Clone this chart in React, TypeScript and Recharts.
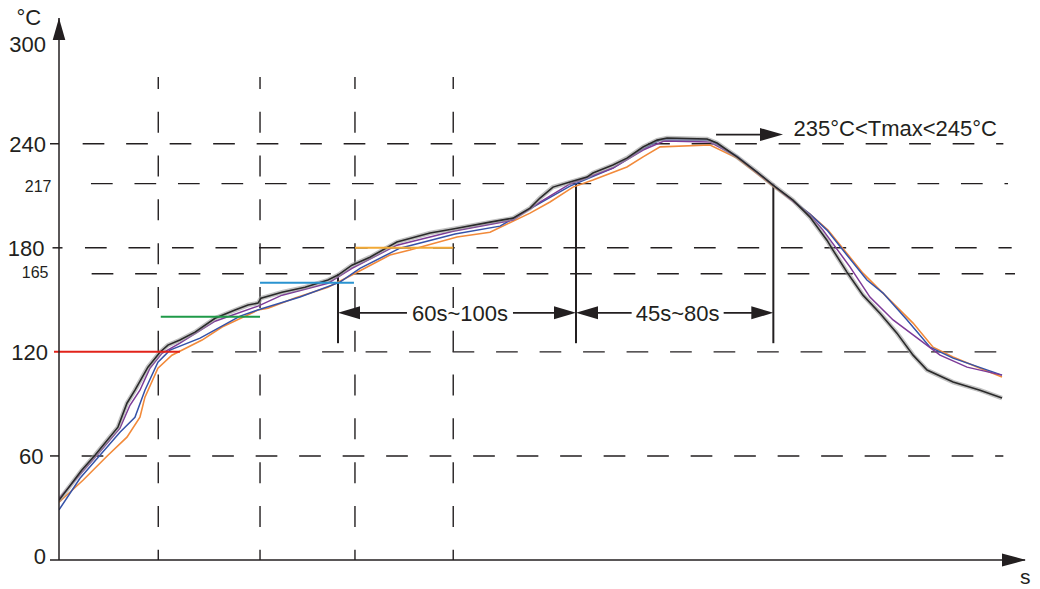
import React from 'react';
import { LineChart, Line, XAxis, YAxis, ReferenceLine, ReferenceDot } from 'recharts';

const INK = '#231f20';
const FONT = '"Liberation Sans", Arial, Helvetica, sans-serif';

// axis
const yTicks = [0, 60, 120, 165, 180, 217, 240, 300];
const minorTicks = [165, 217];
const tickMarked = [0, 60, 180, 240];
const yMax = 312.5;
const xMax = 580;

// dashed guide lines (temperature levels)
const dashLevels = [60, 120, 165, 180, 217, 240];
const dashStarts = [13.6, 79.6, 19.6, 15.6, 19.2, 14.2];
const dashEnds = [567, 567.4, 574, 572, 569.8, 567];

// dashed guide lines (time)
const guideTimes = [59.6, 120.7, 177.7, 236.7];
const guideTop = 278.5;

// coloured hold segments
const holdTemps = [120, 140.2, 159.8, 180];
const holdFrom = [-3, 61.1, 120.7, 177.7];
const holdTo = [72.6, 120.7, 177.1, 236.7];
const holdColors = ['#e2231a', '#1f9a48', '#2a93d0', '#f2a935'];

// solid marker lines
const markTimes = [167.5, 310.4, 428.9];
const markTops = [165, 217, 217];
const markBottom = 125;

// dimension arrows
const dimLabels = ['60s~100s', '45s~80s'];
const dimFrom = [167.5, 310.4];
const dimTo = [310.4, 428.9];
const dimLevel = 142.5;
const tmaxLabel = '235°C<Tmax<245°C';
const tmaxFrom = 394.5;
const tmaxTo = 434.7;
const tmaxLevel = 245.3;

// measured profiles [time, temperature]
const blackCurve: [number, number][] = [
  [0, 34.4], [13.6, 51.7], [21.6, 60.4], [35.4, 76.6], [40.8, 90.4], [45.6, 97.9],
  [53.4, 111.2], [60.6, 119.8], [65.4, 123.9], [72.6, 126.8], [81.7, 131.4], [93.7, 139.4],
  [105.7, 144.1], [113.5, 147.0], [119.5, 148.1], [121.3, 151.0], [133.9, 154.4], [147.7, 157.3],
  [161.5, 161.4], [167.5, 164.3], [175.9, 170.0], [186.7, 174.6], [202.9, 183.3], [222.8, 188.5],
  [236.6, 190.8], [258.8, 194.8], [272.6, 197.1], [282.8, 202.9], [288.8, 208.7], [296.6, 215.0],
  [306.8, 217.9], [317.0, 220.8], [320.6, 223.1], [332.6, 227.7], [341.0, 231.7], [350.7, 238.1],
  [359.1, 242.1], [365.1, 243.3], [389.1, 242.7], [395.1, 240.4], [407.1, 232.4], [419.1, 223.7],
  [428.7, 216.2], [440.7, 207.5], [450.9, 197.7], [461.1, 184.4], [464.7, 178.7], [473.1, 166.0],
  [482.7, 152.7], [492.9, 142.3], [503.1, 130.8], [512.8, 118.1], [521.2, 109.5], [536.8, 102.6],
  [553.0, 97.9], [566.2, 93.4],
];

const purpleCurve: [number, number][] = [
  [0, 35.5], [13.8, 50.6], [22.8, 60.4], [36.6, 76.0], [42.6, 89.2], [48.6, 97.9],
  [54.6, 110.6], [61.8, 119.2], [72.6, 125.0], [93.7, 137.7], [119.5, 146.4], [133.9, 152.7],
  [161.5, 159.6], [175.9, 168.2], [202.9, 181.5], [236.6, 189.6], [272.6, 196.0], [288.8, 206.4],
  [306.8, 216.8], [332.6, 226.0], [350.7, 236.4], [363.2, 241.6], [390.9, 241.0], [407.1, 232.4],
  [428.7, 216.2], [450.9, 198.8], [458.7, 190.2], [475.0, 168.9], [486.9, 151.6], [500.8, 138.4],
  [517.0, 126.8], [529.0, 118.1], [545.2, 111.2], [566.2, 106.6],
];

const blueCurve: [number, number][] = [
  [0, 28.9], [12.6, 47.1], [24.6, 60.4], [36.6, 73.7], [45.6, 82.3], [51.6, 97.9],
  [59.4, 114.0], [66.6, 121.0], [84.7, 127.9], [108.7, 140.6], [120.7, 144.6], [144.7, 151.6],
  [168.7, 160.2], [180.7, 168.2], [204.7, 179.8], [237.8, 187.9], [264.8, 192.5], [288.8, 205.8],
  [306.8, 215.6], [332.6, 226.0], [350.7, 236.9], [360.9, 242.1], [390.9, 242.1], [407.1, 232.9],
  [428.7, 216.2], [450.9, 199.4], [461.1, 190.2], [485.1, 161.4], [494.8, 153.9], [509.2, 138.4],
  [523.0, 122.7], [536.8, 116.4], [566.2, 106.6],
];

const orangeCurve: [number, number][] = [
  [0, 33.3], [14.4, 46.0], [29.4, 60.4], [40.8, 70.8], [48.6, 82.3], [51.6, 93.9],
  [59.4, 110.6], [67.8, 118.1], [85.9, 126.8], [97.9, 134.3], [119.5, 144.1], [125.5, 145.2],
  [141.7, 151.0], [161.5, 157.3], [175.9, 164.3], [198.7, 175.8], [210.7, 178.7], [239.0, 186.2],
  [258.8, 189.0], [282.8, 200.0], [294.8, 206.4], [308.6, 215.0], [320.6, 219.1], [341.0, 226.6],
  [350.7, 232.4], [360.9, 238.2], [390.9, 239.3], [407.1, 231.7], [428.7, 215.6], [450.9, 199.4],
  [461.7, 190.2], [482.7, 165.4], [498.9, 149.8], [512.8, 136.6], [524.8, 122.7], [536.8, 117.0],
  [553.0, 110.6], [566.2, 105.5],
];

const toRows = (c: [number, number][]) => c.map(([t, v]) => ({ t, v }));

const YTick = (props: any) => {
  const { y, payload } = props;
  const v = payload.value as number;
  const minor = minorTicks.includes(v);
  let x = 46;
  let dy = 8.5;
  if (v === 217) { x = 51.5; dy = 8; }
  if (v === 165) { x = 48.5; dy = 4.5; }
  if (v === 300) { dy = 12; }
  if (v === 0) { dy = 3.5; }
  if (v === 120) { x = 48; }
  if (v === 60) { x = 43.5; }
  if (v === 180) { x = 44.5; }
  return (
    <g>
      {tickMarked.includes(v) && (
        <line x1={v === 180 ? 52.5 : 50} x2={v === 180 ? 62.5 : 59} y1={y} y2={y} stroke={INK} strokeWidth={1.5} />
      )}
      <text x={x} y={y + dy} textAnchor="end" fontSize={minor ? 16 : 22} fill={INK} fontFamily={FONT}>
        {v}
      </text>
    </g>
  );
};

const arrowHead = (tipX: number, y: number, dir: number, len = 22, half = 6.5) => (
  <polygon
    points={`${tipX},${y} ${tipX - dir * len},${y - half} ${tipX - dir * len},${y + half}`}
    fill={INK}
  />
);

const makeDim = (label: string, halfGap: number, shift: number) => (p: any) => {
  const { x1, y1, x2 } = p;
  const mid = (x1 + x2) / 2 + shift;
  return (
    <g>
      <line x1={x1 + 15} x2={mid - halfGap} y1={y1} y2={y1} stroke={INK} strokeWidth={1.8} />
      <line x1={mid + halfGap} x2={x2 - 15} y1={y1} y2={y1} stroke={INK} strokeWidth={1.8} />
      {arrowHead(x1, y1, -1)}
      {arrowHead(x2, y1, 1)}
      <text x={mid} y={y1 + 8} textAnchor="middle" fontSize={22} fill={INK} fontFamily={FONT}>
        {label}
      </text>
    </g>
  );
};

const tmaxShape = (p: any) => {
  const { x1, y1, x2 } = p;
  return (
    <g>
      <line x1={x1} x2={x2 - 15} y1={y1} y2={y1} stroke={INK} strokeWidth={1.8} />
      {arrowHead(x2, y1, 1, 23, 6.5)}
      <text x={x2 + 10.5} y={y1 + 1} fontSize={22} fill={INK} fontFamily={FONT}>
        {tmaxLabel}
      </text>
    </g>
  );
};

const yArrow = (p: any) => {
  const { cx, cy } = p;
  return (
    <g>
      <polygon points={`${cx},${cy} ${cx - 6.3},${cy + 22} ${cx + 6.3},${cy + 22}`} fill={INK} />
      <text x={16.5} y={25} fontSize={22} fill={INK} fontFamily={FONT}>°C</text>
    </g>
  );
};

const xArrow = (p: any) => {
  const { cx, cy } = p;
  return (
    <g>
      <polygon points={`${cx + 1},${cy} ${cx - 23},${cy - 6.5} ${cx - 23},${cy + 6.5}`} fill={INK} />
      <text x={cx - 5} y={cy + 24} fontSize={21} fill={INK} fontFamily={FONT}>s</text>
    </g>
  );
};

export default function App() {
  return (
    <div style={{ position: 'absolute', left: 0, top: 0, width: 1040, height: 589, background: '#fff' }}>
      <LineChart
        width={1040}
        height={589}
        margin={{ top: 18, right: 15, left: 0, bottom: 0 }}
        style={{ fontFamily: FONT }}
      >
        <XAxis
          dataKey="t"
          type="number"
          domain={[0, xMax]}
          allowDataOverflow
          tick={false}
          tickLine={false}
          height={29}
          axisLine={{ stroke: INK, strokeWidth: 1.5 }}
        />
        <YAxis
          type="number"
          domain={[0, yMax]}
          allowDataOverflow
          ticks={yTicks}
          interval={0}
          tick={<YTick />}
          tickLine={false}
          width={59}
          axisLine={{ stroke: INK, strokeWidth: 1.5 }}
        />

        {guideTimes.map((t) => (
          <ReferenceLine
            key={'gt' + t}
            segment={[{ x: t, y: guideTop }, { x: t, y: 0 }]}
            stroke={INK}
            strokeWidth={1.4}
            strokeDasharray="21 22.8"
            strokeDashoffset={9}
            ifOverflow="visible"
          />
        ))}
        {dashLevels.map((lv, i) => (
          <ReferenceLine
            key={'dl' + lv}
            segment={[{ x: dashStarts[i], y: lv }, { x: dashEnds[i], y: lv }]}
            stroke={INK}
            strokeWidth={1.4}
            strokeDasharray="21.7 21.8"
            ifOverflow="visible"
          />
        ))}
        {markTimes.map((t, i) => (
          <ReferenceLine
            key={'mk' + t}
            segment={[{ x: t, y: markTops[i] }, { x: t, y: markBottom }]}
            stroke={INK}
            strokeWidth={2}
            ifOverflow="visible"
          />
        ))}

        <Line data={toRows(orangeCurve)} dataKey="v" type="linear" stroke="#f28a3a" strokeWidth={1.6} dot={false} isAnimationActive={false} />
        <Line data={toRows(blueCurve)} dataKey="v" type="linear" stroke="#3552a8" strokeWidth={1.5} dot={false} isAnimationActive={false} />
        <Line data={toRows(purpleCurve)} dataKey="v" type="linear" stroke="#7d3a98" strokeWidth={1.5} dot={false} isAnimationActive={false} />
        <Line data={toRows(blackCurve)} dataKey="v" type="linear" stroke="#9a9a9a" strokeOpacity={0.6} strokeWidth={4.5} dot={false} isAnimationActive={false} />
        <Line data={toRows(blackCurve)} dataKey="v" type="linear" stroke="#2a2a2a" strokeWidth={1.6} dot={false} isAnimationActive={false} />

        {holdTemps.map((lv, i) => (
          <ReferenceLine
            key={'hd' + i}
            segment={[{ x: holdFrom[i], y: lv }, { x: holdTo[i], y: lv }]}
            stroke={holdColors[i]}
            strokeWidth={2}
            ifOverflow="visible"
          />
        ))}

        {dimLabels.map((lab, i) => (
          <ReferenceLine
            key={'dim' + i}
            segment={[{ x: dimFrom[i], y: dimLevel }, { x: dimTo[i], y: dimLevel }]}
            ifOverflow="visible"
            shape={makeDim(lab, i === 0 ? 53 : 46, 3)}
          />
        ))}
        <ReferenceLine
          segment={[{ x: tmaxFrom, y: tmaxLevel }, { x: tmaxTo, y: tmaxLevel }]}
          ifOverflow="visible"
          shape={tmaxShape}
        />
        <ReferenceDot x={0} y={yMax} r={0} ifOverflow="visible" shape={yArrow} />
        <ReferenceDot x={xMax} y={0} r={0} ifOverflow="visible" shape={xArrow} />
      </LineChart>
    </div>
  );
}
